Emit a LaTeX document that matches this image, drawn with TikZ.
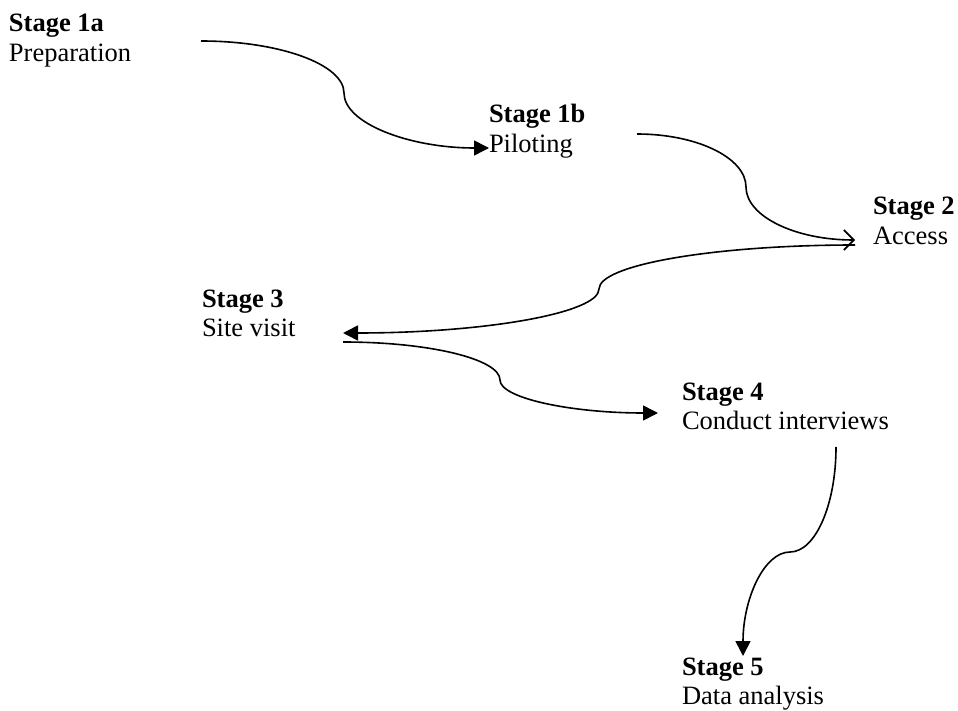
\documentclass[tikz,border=0pt]{standalone}
\usepackage{fontspec}
\setmainfont{Liberation Serif}
\usetikzlibrary{arrows.meta}
\begin{document}
\begin{tikzpicture}[x=0.5pt,y=-0.5pt,
  stage/.style={anchor=base west,inner sep=0pt,outer sep=0pt,
    font=\fontsize{13.25pt}{14.75pt}\selectfont},
  flow/.style={line width=0.8pt,-{Triangle[length=7.5pt,width=7.5pt]}},
  openflow/.style={line width=0.8pt,-{Straight Barb[length=5pt,width=10pt,line width=0.8pt]}}]
\useasboundingbox (0,0) rectangle (958,711);

% stage labels (anchored at the first baseline)
\node[stage] (s1a) at (9,32)   {\begin{tabular}[t]{@{}l@{}}\textbf{Stage 1a}\\Preparation\end{tabular}};
\node[stage] (s1b) at (489,123){\begin{tabular}[t]{@{}l@{}}\textbf{Stage 1b}\\Piloting\end{tabular}};
\node[stage] (s2)  at (873,215){\begin{tabular}[t]{@{}l@{}}\textbf{Stage 2}\\Access\end{tabular}};
\node[stage] (s3)  at (202,307){\begin{tabular}[t]{@{}l@{}}\textbf{Stage 3}\\Site visit\end{tabular}};
\node[stage] (s4)  at (682,400){\begin{tabular}[t]{@{}l@{}}\textbf{Stage 4}\\Conduct interviews\end{tabular}};
\node[stage] (s5)  at (682,675){\begin{tabular}[t]{@{}l@{}}\textbf{Stage 5}\\Data analysis\end{tabular}};

% connector end points and turning points
\coordinate (a1) at (201,41);  \coordinate (m1) at (344,93);  \coordinate (b1) at (489,148);
\coordinate (a2) at (637,134); \coordinate (m2) at (746,187); \coordinate (b2) at (855,240);
\coordinate (a3) at (855,245); \coordinate (m3) at (599,289); \coordinate (b3) at (343,333);
\coordinate (a4) at (343,342); \coordinate (m4) at (500,380); \coordinate (b4) at (658,413);
\coordinate (a5) at (836,447); \coordinate (m5) at (790,552); \coordinate (b5) at (743,656);

% curved connectors between the stages
\draw[flow] (a1) .. controls +(78.7,0) and +(0,-28.6) .. (m1)
                 .. controls +(0,30.3) and +(-79.8,0) .. (b1);
\draw[openflow] (a2) .. controls +(60,0) and +(0,-29.2) .. (m2)
                     .. controls +(0,29.2) and +(-60,0) .. (b2);
\draw[flow] (a3) .. controls +(-140.8,0) and +(0,-24.2) .. (m3)
                 .. controls +(0,24.2) and +(140.8,0) .. (b3);
\draw[flow] (a4) .. controls +(86.4,0) and +(0,-20.9) .. (m4)
                 .. controls +(0,18.2) and +(-86.9,0) .. (b4);
\draw[flow] (a5) .. controls +(0,57.8) and +(25.3,0) .. (m5)
                 .. controls +(-25.9,0) and +(0,-57.2) .. (b5);
\end{tikzpicture}
\end{document}
